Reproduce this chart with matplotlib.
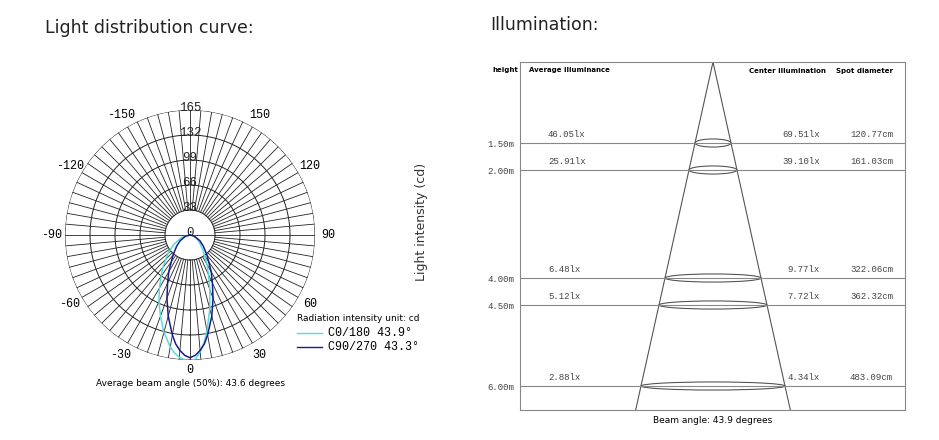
import numpy as np
import matplotlib
matplotlib.use("Agg")
import matplotlib.pyplot as plt
from matplotlib.patches import Ellipse

# ---- polar data (angle in deg, intensity in cd) ----
c0_angles = [-90, -75, -60, -50, -40, -30, -25, -20, -15, -10, -7.5, -5, -2.5, 0,
             2.5, 5, 7.5, 10, 15, 20, 25, 30, 40, 50, 60, 75, 90]
c0_values = [0, 11, 25, 38, 56, 81, 97, 114, 133, 150, 157, 162, 165, 166,
             164, 155, 143, 129, 101, 77, 58, 45, 27, 17, 11, 4, 0]
c90_angles = [-90, -75, -60, -50, -40, -30, -25, -20, -15, -10, -7.5, -5, -2.5, 0,
              2.5, 5, 7.5, 10, 15, 20, 25, 30, 40, 50, 60, 75, 90]
c90_values = [0, 6, 15, 23, 35, 56, 70, 89, 111, 134, 145, 153, 159, 162,
              159, 153, 145, 134, 111, 89, 70, 56, 35, 23, 15, 6, 0]
ring_values = [33, 66, 99, 132, 165]
angle_labels = [0, 30, 60, 90, 120, 150, -150, -120, -90, -60, -30]

# ---- illumination table ----
heights = [1.5, 2.0, 4.0, 4.5, 6.0]
height_labels = ["1.50m", "2.00m", "4.00m", "4.50m", "6.00m"]
avg_lux = ["46.05lx", "25.91lx", "6.48lx", "5.12lx", "2.88lx"]
center_lux = ["69.51lx", "39.10lx", "9.77lx", "7.72lx", "4.34lx"]
spot_diam = ["120.77cm", "161.03cm", "322.06cm", "362.32cm", "483.09cm"]

MONO = "Liberation Mono"
fig = plt.figure(figsize=(9.39, 4.4), dpi=100)

# ---------------- polar panel ----------------
ax = fig.add_axes([65 / 939, 80 / 440, 250 / 939, 250 / 440], projection="polar")
ax.set_theta_zero_location("S")
ax.set_theta_direction(1)
ax.set_ylim(0, 165)
ax.axis("off")
th = np.linspace(0, 2 * np.pi, 361)
for r in ring_values:
    ax.plot(th, np.full_like(th, r), color="#222222", lw=0.7)
for a in range(0, 360, 5):
    t = np.deg2rad(a)
    ax.plot([t, t], [33, 165], color="#222222", lw=0.6)
ax.plot([np.pi / 2, 3 * np.pi / 2], [33, 33], color="#222222", lw=0.6)
ax.plot(np.deg2rad(c0_angles), c0_values, color="#55dddd", lw=1.1)
ax.plot(np.deg2rad(c90_angles), c90_values, color="#1a1a8c", lw=1.1)
for r in [0] + ring_values:
    ax.text(np.pi, r + 3, str(r), ha="center", va="center", fontsize=9,
            family=MONO, color="#222222", clip_on=False)
for a in angle_labels:
    rr = 178 if a == 0 else 183
    ax.text(np.deg2rad(a), rr, str(a), ha="center", va="center", fontsize=8.5,
            family=MONO, clip_on=False)

fig.text(45 / 939, 1 - 28 / 440, "Light distribution curve:", fontsize=12.5,
         va="center", color="#222222")
fig.text(297 / 939, 1 - 318 / 440, "Radiation intensity unit: cd", fontsize=6.5, va="center")
fig.add_artist(plt.Line2D([297 / 939, 322 / 939], [1 - 333 / 440] * 2, color="#55dddd", lw=1))
fig.add_artist(plt.Line2D([297 / 939, 322 / 939], [1 - 347 / 440] * 2, color="#1a1a8c", lw=1))
fig.text(328 / 939, 1 - 333 / 440, "C0/180 43.9°", fontsize=8.5, family=MONO, va="center")
fig.text(328 / 939, 1 - 347 / 440, "C90/270 43.3°", fontsize=8.5, family=MONO, va="center")
fig.text(190 / 939, 1 - 383 / 440, "Average beam angle (50%): 43.6 degrees", fontsize=6.5,
         ha="center", va="center")
fig.text(421 / 939, 1 - 222 / 440, "Light intensity (cd)", fontsize=9, rotation=90,
         ha="center", va="center", color="#333333")

# ---------------- illumination panel ----------------
bx = fig.add_axes([520 / 939, 30 / 440, 385 / 939, 348 / 440])
bx.set_xlim(0, 385)
bx.set_ylim(348 / 54, 0)
bx.set_xticks([])
bx.set_yticks([])
for s in bx.spines.values():
    s.set_color("#888888")
apex = 193
slope = 12.0  # half width per metre
ybot = 348 / 54
bx.plot([apex, apex - slope * ybot], [0, ybot], color="#555555", lw=0.8)
bx.plot([apex, apex + slope * ybot], [0, ybot], color="#555555", lw=0.8)
for h, hl, a, c, d in zip(heights, height_labels, avg_lux, center_lux, spot_diam):
    bx.axhline(h, color="#888888", lw=0.8)
    bx.add_patch(Ellipse((apex, h), 2 * slope * h, 0.15, fill=False, ec="#555555", lw=0.8))
    bx.text(-6, h + 0.02, hl, ha="right", va="center", fontsize=6.5, family=MONO,
            color="#444444", clip_on=False)
    bx.text(28, h - 0.15, a, ha="left", va="center", fontsize=6.5, family=MONO, color="#444444")
    bx.text(300, h - 0.15, c, ha="right", va="center", fontsize=6.5, family=MONO, color="#444444")
    bx.text(373, h - 0.15, d, ha="right", va="center", fontsize=6.5, family=MONO, color="#444444")
bx.text(-2, 0.15, "height", ha="right", va="center", fontsize=5, weight="bold", clip_on=False)
bx.text(9, 0.15, "Average illuminance", ha="left", va="center", fontsize=5, weight="bold")
bx.text(306, 0.17, "Center illumination", ha="right", va="center", fontsize=5, weight="bold")
bx.text(373, 0.17, "Spot diameter", ha="right", va="center", fontsize=5, weight="bold")
fig.text(713 / 939, 1 - 420 / 440, "Beam angle: 43.9 degrees", fontsize=6.5,
         ha="center", va="center")
fig.text(490 / 939, 1 - 25 / 440, "Illumination:", fontsize=12.5, va="center", color="#222222")

fig.savefig("out.png", dpi=100)
